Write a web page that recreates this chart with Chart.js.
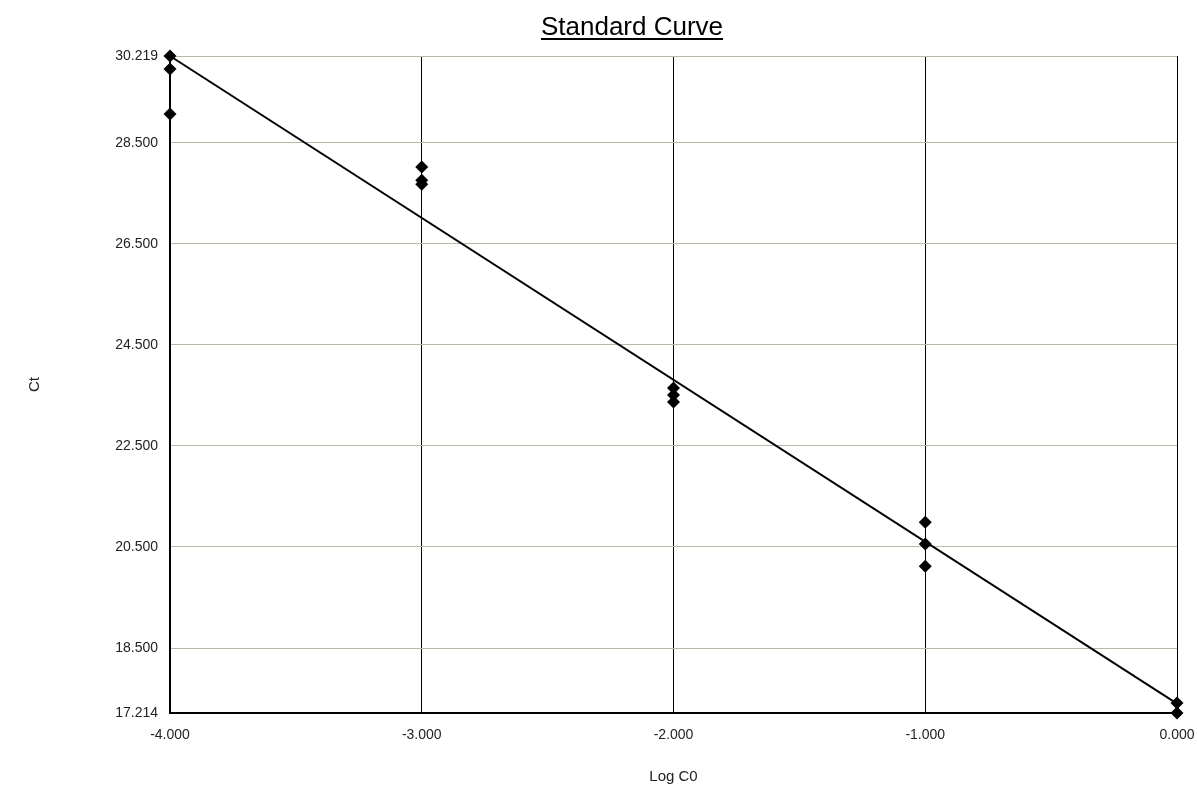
<!DOCTYPE html>
<html>
<head>
<meta charset="utf-8">
<script src="https://cdn.jsdelivr.net/npm/chart.js@4.4.1/dist/chart.umd.min.js"></script>
<style>
html,body{margin:0;padding:0;background:#fff;}
#wrap{position:relative;width:1197px;height:790px;}
</style>
</head>
<body>
<div id="wrap"><canvas id="c" width="1197" height="790"></canvas></div>
<script>
// Data
const logC0 = [-4, -4, -4, -3, -3, -3, -2, -2, -2, -1, -1, -1, 0, 0];
const ctValues = [30.219, 29.96, 29.07, 28.02, 27.76, 27.68, 23.645, 23.51, 23.37, 20.99, 20.56, 20.12, 17.41, 17.214];
const fitX = [-4, 0];
const fitY = [30.219, 17.40];
const yTicks = [17.214, 18.5, 20.5, 22.5, 24.5, 26.5, 28.5, 30.219];
const xTicks = [-4, -3, -2, -1, 0];
const titleText = 'Standard Curve';
const xTitle = 'Log C0';
const yTitle = 'Ct';

const points = logC0.map((x, i) => ({x: x, y: ctValues[i]}));
const fitLine = fitX.map((x, i) => ({x: x, y: fitY[i]}));

const FONT = 'Liberation Sans, Arial, sans-serif';

const titlePlugin = {
  id: 'ulTitle',
  afterDraw(chart) {
    const ctx = chart.ctx;
    ctx.save();
    ctx.font = '26px ' + FONT;
    ctx.fillStyle = '#000';
    ctx.textAlign = 'center';
    ctx.textBaseline = 'alphabetic';
    const cx = 632, by = 35;
    ctx.fillText(titleText, cx, by);
    const w = ctx.measureText(titleText).width;
    ctx.fillRect(cx - w / 2, by + 3, w, 2);
    ctx.restore();
  }
};

new Chart(document.getElementById('c'), {
  type: 'scatter',
  data: {
    datasets: [
      {
        type: 'line',
        data: fitLine,
        borderColor: '#000',
        borderWidth: 2,
        pointRadius: 0,
        fill: false,
        clip: false,
        order: 2
      },
      {
        data: points,
        pointStyle: 'rectRot',
        pointRadius: 6.5,
        pointHoverRadius: 6.5,
        backgroundColor: '#000',
        borderColor: '#000',
        borderWidth: 0,
        clip: false,
        order: 1
      }
    ]
  },
  options: {
    responsive: false,
    animation: false,
    events: [],
    layout: {padding: {top: 56, right: 20, bottom: 0, left: 0}},
    plugins: {
      legend: {display: false},
      title: {display: false},
      tooltip: {enabled: false}
    },
    scales: {
      x: {
        type: 'linear',
        min: -4,
        max: 0,
        afterBuildTicks(scale) { scale.ticks = xTicks.map(v => ({value: v})); },
        afterFit(scale) { scale.height = 77; scale.paddingRight = 0; scale.paddingLeft = 0; },
        ticks: {
          callback: v => Number(v).toFixed(3),
          font: {family: FONT, size: 14},
          color: '#222',
          padding: 14,
          maxRotation: 0
        },
        grid: {
          drawTicks: false,
          color: '#000',
          lineWidth: 1
        },
        border: {display: true, color: '#000', width: 2},
        title: {
          display: true,
          text: xTitle,
          font: {family: FONT, size: 15},
          color: '#222',
          padding: {top: 22}
        }
      },
      y: {
        type: 'linear',
        min: 17.214,
        max: 30.219,
        afterBuildTicks(scale) { scale.ticks = yTicks.map(v => ({value: v})); },
        afterFit(scale) { scale.width = 170; },
        ticks: {
          callback: v => Number(v).toFixed(3),
          font: {family: FONT, size: 14},
          color: '#222',
          padding: 12
        },
        grid: {
          drawTicks: false,
          color: '#b9b9aa',
          lineWidth: 1
        },
        border: {display: true, color: '#000', width: 2},
        title: {
          display: true,
          text: yTitle,
          font: {family: FONT, size: 15},
          color: '#222',
          padding: {top: 26, bottom: 0}
        }
      }
    }
  },
  plugins: [titlePlugin]
});
</script>
</body>
</html>
